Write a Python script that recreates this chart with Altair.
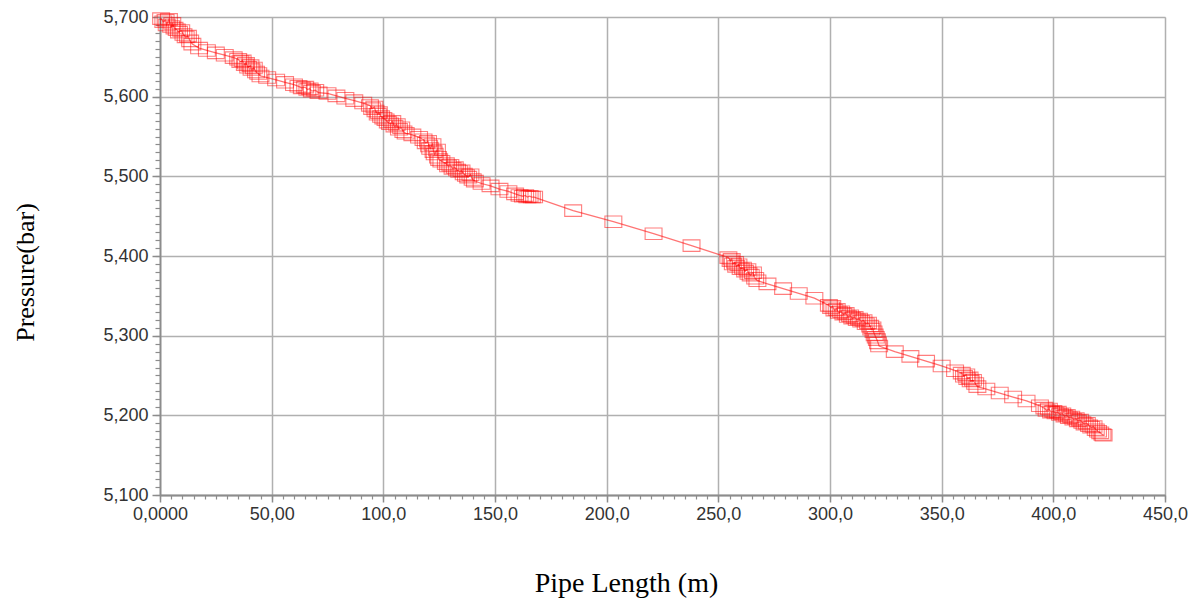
import altair as alt
import pandas as pd

# ---- data (pipe length in m, pressure in bar) ----
seg_a_x = [0.5, 1.5, 2.5, 3.0, 4.0, 5.0, 5.5, 6.5, 7.5, 8.5, 9.5, 10.5, 11.5, 12.5, 13.5, 14.5]
seg_a_y = [5.698, 5.694, 5.696, 5.690, 5.697, 5.688, 5.692, 5.686, 5.684, 5.681, 5.683, 5.678, 5.675, 5.676, 5.670, 5.666]

seg_b_x = [17.5, 21, 25, 29, 33, 35, 36, 37, 38, 38.5, 39.5, 40.5, 41, 42, 43, 44, 45]
seg_b_y = [5.661, 5.658, 5.655, 5.652, 5.649, 5.647, 5.644, 5.645, 5.640, 5.642, 5.637, 5.639, 5.634, 5.636, 5.631, 5.629, 5.626]

seg_c_x = [48, 52, 56, 60, 62, 63.5, 65, 66, 67, 68, 69.5, 71]
seg_c_y = [5.624, 5.621, 5.618, 5.615, 5.613, 5.611, 5.612, 5.609, 5.610, 5.607, 5.608, 5.605]

seg_d_x = [75, 79, 83, 87, 91, 94, 95, 96, 96.5, 97.5, 98, 99, 100, 101, 102, 103, 104, 105, 106, 107, 108, 109, 110]
seg_d_y = [5.604, 5.601, 5.598, 5.595, 5.592, 5.589, 5.585, 5.587, 5.582, 5.578, 5.580, 5.575, 5.573, 5.571, 5.568, 5.566, 5.569, 5.563, 5.565, 5.559, 5.561, 5.556, 5.554]

seg_e_x = [113, 116, 118, 119, 120, 120.5, 121, 122, 122.5, 123, 124, 124.5, 125, 126]
seg_e_y = [5.552, 5.549, 5.546, 5.542, 5.544, 5.538, 5.535, 5.540, 5.531, 5.528, 5.533, 5.524, 5.521, 5.519]

seg_f_x = [128, 129, 130, 131, 132, 133, 134, 135, 136, 137, 138, 139, 140, 141]
seg_f_y = [5.516, 5.513, 5.514, 5.510, 5.511, 5.508, 5.506, 5.507, 5.503, 5.501, 5.499, 5.502, 5.496, 5.494]

seg_g_x = [144, 148, 152, 156, 159, 161, 162.5, 163.5, 164.5, 165.5, 166.5, 167.5]
seg_g_y = [5.491, 5.488, 5.484, 5.481, 5.478, 5.476, 5.475, 5.476, 5.474, 5.475, 5.474, 5.474]

seg_h_x = [185, 203, 221, 238, 254.5, 255.5, 256, 256.5, 257.5, 258, 259, 260, 261, 262, 263, 263.5, 264.5, 265.5, 266.5, 267.5]
seg_h_y = [5.457, 5.443, 5.428, 5.413, 5.398, 5.394, 5.396, 5.390, 5.392, 5.387, 5.389, 5.384, 5.385, 5.381, 5.383, 5.378, 5.376, 5.379, 5.372, 5.369]

seg_i_x = [272, 279, 286, 293, 299.5, 300.5, 301, 302, 303, 304, 305, 306, 307, 308, 309, 310, 311, 312, 313, 314,
           315, 316, 317, 318, 318.5, 319, 319.5, 320, 320.5, 321, 321.5, 322]
seg_i_y = [5.365, 5.359, 5.353, 5.347, 5.338, 5.335, 5.337, 5.332, 5.333, 5.329, 5.330, 5.327, 5.328, 5.324, 5.325, 5.322, 5.323, 5.320, 5.321, 5.318,
           5.319, 5.315, 5.316, 5.312, 5.308, 5.310, 5.305, 5.301, 5.298, 5.295, 5.291, 5.287]

seg_j_x = [329, 336, 343, 350, 356, 359, 360, 361, 361.5, 362.5, 363, 364, 365, 366]
seg_j_y = [5.280, 5.274, 5.268, 5.262, 5.256, 5.253, 5.249, 5.251, 5.246, 5.247, 5.243, 5.244, 5.240, 5.236]

seg_k_x = [370, 376, 382, 388, 394, 396, 397, 398, 399, 400, 401, 402, 403, 404, 405, 406, 407, 408, 409, 410,
           411, 412, 413, 414, 415, 416, 417, 418, 419, 420, 421, 422, 422.5]
seg_k_y = [5.233, 5.228, 5.223, 5.218, 5.212, 5.209, 5.206, 5.208, 5.204, 5.205, 5.203, 5.204, 5.201, 5.202, 5.199, 5.200, 5.197, 5.198, 5.195, 5.196,
           5.193, 5.194, 5.191, 5.189, 5.190, 5.187, 5.185, 5.186, 5.182, 5.180, 5.178, 5.176, 5.175]

x_major = [0, 50, 100, 150, 200, 250, 300, 350, 400, 450]
x_labels = ["0,0000", "50,00", "100,0", "150,0", "200,0", "250,0", "300,0", "350,0", "400,0", "450,0"]
y_major = [5.1, 5.2, 5.3, 5.4, 5.5, 5.6, 5.7]
y_labels = ["5,100", "5,200", "5,300", "5,400", "5,500", "5,600", "5,700"]
x_minor = [v * 5 for v in range(0, 91)]
y_minor = [round(5.1 + v * 0.01, 2) for v in range(0, 61)]

xs = seg_a_x + seg_b_x + seg_c_x + seg_d_x + seg_e_x + seg_f_x + seg_g_x + seg_h_x + seg_i_x + seg_j_x + seg_k_x
ys = seg_a_y + seg_b_y + seg_c_y + seg_d_y + seg_e_y + seg_f_y + seg_g_y + seg_h_y + seg_i_y + seg_j_y + seg_k_y
df = pd.DataFrame({"x": xs, "y": ys, "order": list(range(len(xs)))})

LABEL_FONT = "Liberation Sans"
TITLE_FONT = "Liberation Serif"

x_label_expr = "[" + ",".join("'%s'" % s for s in x_labels) + "][round(datum.value/50)]"
y_label_expr = "[" + ",".join("'%s'" % s for s in y_labels) + "][round((datum.value-5.1)*10)]"

x_scale = alt.Scale(domain=[0, 450], nice=False)
y_scale = alt.Scale(domain=[5.1, 5.7], nice=False, zero=False)

x_main_axis = alt.Axis(
    orient="bottom", values=x_major, labelExpr=x_label_expr, grid=True,
    gridColor="#b0b0b0", gridWidth=1.5, tickSize=7, tickColor="#8c8c8c", tickWidth=1.5,
    domainColor="#8c8c8c", domainWidth=1.8, labelFont=LABEL_FONT, labelFontSize=18,
    labelColor="#333333", labelPadding=3, labelOverlap=False, labelFlush=False,
    title="Pipe Length (m)", titleFont=TITLE_FONT, titleFontSize=28, titleFontWeight="normal",
    titleColor="#000000", titleX=466, titleY=88, titleBaseline="middle", titleAlign="center",
)
y_main_axis = alt.Axis(
    orient="left", values=y_major, labelExpr=y_label_expr, grid=True,
    gridColor="#b0b0b0", gridWidth=1.5, tickSize=8, tickColor="#8c8c8c", tickWidth=1.5,
    domainColor="#8c8c8c", domainWidth=1.8, labelFont=LABEL_FONT, labelFontSize=18,
    labelColor="#333333", labelPadding=4, labelOverlap=False, labelFlush=False,
    title="Pressure(bar)", titleFont=TITLE_FONT, titleFontSize=26, titleFontWeight="normal",
    titleColor="#000000", titleX=-135, titleY=255, titleAngle=270, titleBaseline="middle",
    titleAlign="center",
)
x_minor_axis = alt.Axis(
    orient="bottom", values=x_minor, labels=False, grid=False, domain=False,
    tickSize=4, tickColor="#8c8c8c", tickWidth=1.2, title=None,
)
y_minor_axis = alt.Axis(
    orient="left", values=y_minor, labels=False, grid=False, domain=False,
    tickSize=5, tickColor="#8c8c8c", tickWidth=1.2, title=None,
)

line = alt.Chart(df).mark_line(color="#ff0000", strokeWidth=1.3, opacity=0.55).encode(
    x=alt.X("x:Q", scale=x_scale, axis=x_main_axis),
    y=alt.Y("y:Q", scale=y_scale, axis=y_main_axis),
    order="order:Q",
)

rect_path = "M-1,-0.68L1,-0.68L1,0.68L-1,0.68Z"
points = alt.Chart(df).mark_point(
    shape=rect_path, size=285, filled=False, stroke="#ff0000", strokeWidth=1.1, opacity=0.5
).encode(
    x=alt.X("x:Q", scale=x_scale, axis=x_minor_axis),
    y=alt.Y("y:Q", scale=y_scale, axis=y_minor_axis),
)

chart = alt.layer(line, points).resolve_axis(x="independent", y="independent").properties(
    width=1005,
    height=478,
    autosize=alt.AutoSizeParams(type="none"),
    padding={"left": 152, "top": 9, "right": 30, "bottom": 106},
).configure_view(stroke="#8c8c8c", strokeWidth=1.5).configure(background="#ffffff")

chart.save("out.html", embed_options={"renderer": "svg", "actions": False})
